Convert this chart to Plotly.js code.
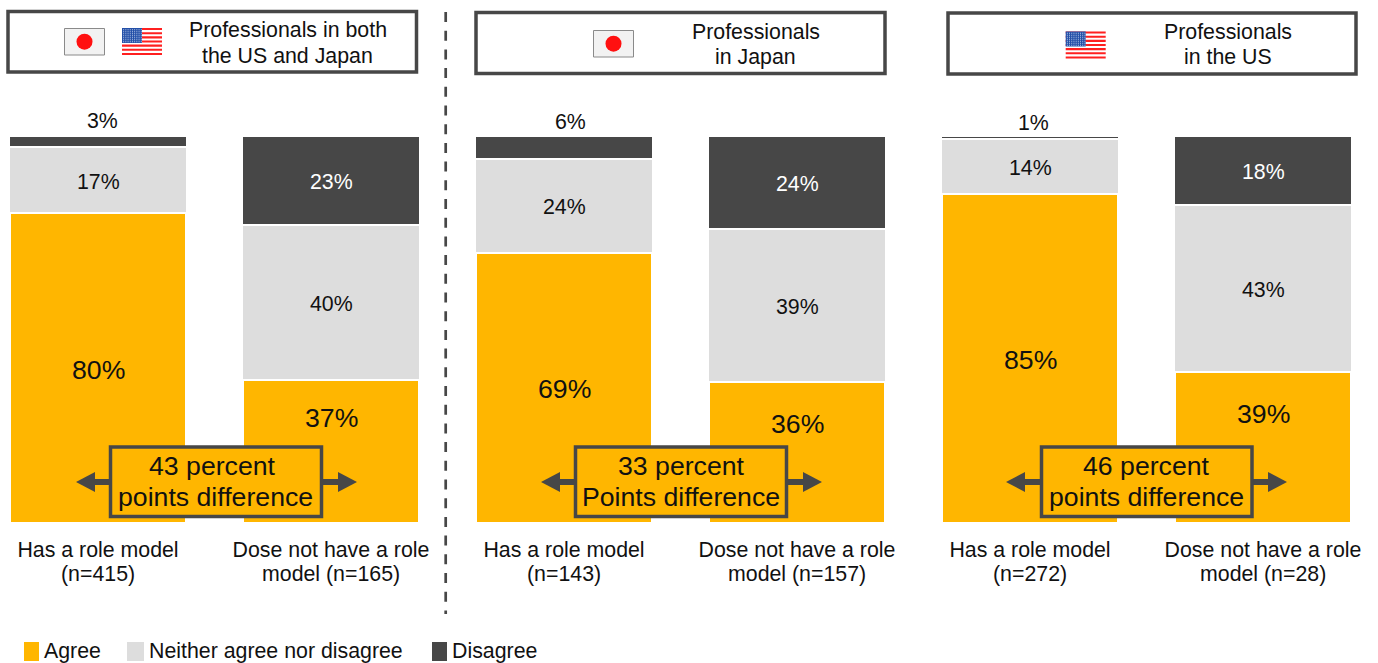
<!DOCTYPE html>
<html>
<head>
<meta charset="utf-8">
<script src="https://cdn.plot.ly/plotly-3.0.1.min.js"></script>
<style>html,body{margin:0;padding:0;background:#fff;overflow:hidden}</style>
</head>
<body>
<div id="chart" style="width:1378px;height:663px"></div>
<script>
// Survey responses by role-model status, in percent
const categories = ['Has a role model', 'Dose not have a role model'];
const tickFirstLines = ['Has a role model', 'Dose not have a role'];
const tickSecondBoth = ['(n=415)', 'model (n=165)'];
const tickSecondJapan = ['(n=143)', 'model (n=157)'];
const tickSecondUS = ['(n=272)', 'model (n=28)'];

const agreeBoth = [80, 37];
const neitherBoth = [17, 40];
const disagreeBoth = [3, 23];
const agreeJapan = [69, 36];
const neitherJapan = [24, 39];
const disagreeJapan = [6, 24];
const agreeUS = [85, 39];
const neitherUS = [14, 43];
const disagreeUS = [1, 18];

const seriesNames = ['Agree', 'Neither agree nor disagree', 'Disagree'];
const panelTitles = [['Professionals in both', 'the US and Japan'], ['Professionals', 'in Japan'], ['Professionals', 'in the US']];
const diffLabels = [['43 percent', 'points difference'], ['33 percent', 'Points difference'], ['46 percent', 'points difference']];

const AMBER = '#FFB600', GREY = '#DDDDDD', DARK = '#474747', INK = '#111111';
const FONT = '"Liberation Sans", Arial, sans-serif';
const BASE = 21.33, LARGE = 26.67;
const W = 1378, H = 663;
const px = v => v / W;
const py = v => 1 - v / H;

// Pixel geometry of each panel: bar centres, header box, callout box, label offsets
const panels = [
  {c: [98, 331], head: [8, 416.5], headY: [11.5, 72], titleX: 287.5, titleY: [30, 56],
   diffBox: [110.5, 321.5], diffX: [212.5, 215.5], tips: [76, 357], topShift: 4, topY: 0, agree2Y: 418,
   agree: agreeBoth, neither: neitherBoth, disagree: disagreeBoth, second: tickSecondBoth},
  {c: [564, 797], head: [476, 885], headY: [12.5, 73.5], titleX: 756, titleY: [32, 57],
   diffBox: [575.5, 786.5], diffX: [681, 681], tips: [541, 822], topShift: 6, topY: -1, agree2Y: 424,
   agree: agreeJapan, neither: neitherJapan, disagree: disagreeJapan, second: tickSecondJapan},
  {c: [1030, 1263], head: [948, 1356], headY: [13, 74], titleX: 1227.5, titleY: [32, 57],
   diffBox: [1041.5, 1252], diffX: [1146, 1146], tips: [1006, 1287], topShift: 3, topY: -2, agree2Y: 414,
   agree: agreeUS, neither: neitherUS, disagree: disagreeUS, second: tickSecondUS}
];

const plotTop = 135.5, plotBottom = 523;
const data = [], shapes = [], annotations = [], layout = {};

const paperShape = o => Object.assign({xref: 'paper', yref: 'paper', layer: 'above'}, o);
const textAt = (text, x, y, size, extra) => annotations.push(Object.assign({
  xref: 'paper', yref: 'paper', x: px(x), y: py(y), xanchor: 'center', yanchor: 'middle',
  showarrow: false, text, font: {family: FONT, size, color: INK}
}, extra || {}));

panels.forEach((p, i) => {
  const n = i === 0 ? '' : String(i + 1);
  const xa = 'x' + n, ya = 'y' + n;
  const unit = p.c[1] - p.c[0];
  const left = p.c[0] - 93, right = p.c[1] + 93;
  const total = Math.max(p.agree[0] + p.neither[0] + p.disagree[0], p.agree[1] + p.neither[1] + p.disagree[1]);

  layout['xaxis' + n] = {
    domain: [px(left), px(right)],
    range: [(left - p.c[0]) / unit, (right - p.c[0]) / unit],
    type: 'linear', tickmode: 'array', tickvals: [0, 1], ticktext: tickFirstLines,
    showgrid: false, zeroline: false, showline: false, ticks: '', ticklen: 0, ticklabelstandoff: 12,
    tickfont: {family: FONT, size: BASE, color: INK}, anchor: ya, fixedrange: true
  };
  layout['yaxis' + n] = {
    domain: [py(plotBottom), py(plotTop)],
    range: [0, total], visible: false, anchor: xa, fixedrange: true
  };

  const series = [
    {name: seriesNames[0], y: p.agree, color: AMBER, w: 0.757},
    {name: seriesNames[1], y: p.neither, color: GREY, w: 0.765},
    {name: seriesNames[2], y: p.disagree, color: DARK, w: 0.765}
  ];
  series.forEach(s => data.push({
    type: 'bar', x: [0, 1], y: s.y, name: s.name, xaxis: xa, yaxis: ya, width: s.w,
    marker: {color: s.color, line: {color: '#ffffff', width: 2}},
    customdata: categories, showlegend: false,
    hovertemplate: '%{customdata}: %{y}%<extra>' + s.name + '</extra>'
  }));

  // Value labels centred on their segments
  const segmentLabel = (k, base, value, size, color) => annotations.push({
    xref: xa, yref: ya, x: k, y: base + value / 2, yshift: -1.5, xanchor: 'center', yanchor: 'middle',
    showarrow: false, text: value + '%', font: {family: FONT, size, color}
  });
  segmentLabel(0, 0, p.agree[0], LARGE, INK);
  segmentLabel(0, p.agree[0], p.neither[0], BASE, INK);
  segmentLabel(1, p.agree[1], p.neither[1], BASE, INK);
  segmentLabel(1, p.agree[1] + p.neither[1], p.disagree[1], BASE, '#ffffff');

  // Second line of each category label, with tighter leading than a tick label allows
  p.second.forEach((label, k) => annotations.push({
    xref: xa, yref: 'paper', x: k, y: py(574), xanchor: 'center', yanchor: 'middle',
    showarrow: false, text: label, font: {family: FONT, size: BASE, color: INK}
  }));

  // Label above the thin top segment of the first bar
  annotations.push({
    xref: xa, yref: ya, x: 0, y: total, xshift: p.topShift, yshift: p.topY,
    xanchor: 'center', yanchor: 'bottom', showarrow: false,
    text: p.disagree[0] + '%', font: {family: FONT, size: BASE, color: INK}
  });
  // Agree label of the second bar sits above the callout box
  annotations.push({
    xref: xa, yref: 'paper', x: 1, y: py(p.agree2Y), xanchor: 'center', yanchor: 'middle', showarrow: false,
    text: p.agree[1] + '%', font: {family: FONT, size: LARGE, color: INK}
  });

  // Header box and title
  shapes.push(paperShape({type: 'rect', x0: px(p.head[0]), x1: px(p.head[1]), y0: py(p.headY[0]), y1: py(p.headY[1]),
    fillcolor: '#ffffff', line: {color: DARK, width: 3.5}}));
  panelTitles[i].forEach((line, k) => textAt(line, p.titleX, p.titleY[k], BASE));

  // Double-headed arrow behind the difference callout
  const midY = 482;
  const [b0, b1] = p.diffBox, [t0, t1] = p.tips;
  shapes.push(paperShape({type: 'line', x0: px(t0 + 15), x1: px(b0), y0: py(midY), y1: py(midY), line: {color: DARK, width: 6}}));
  shapes.push(paperShape({type: 'line', x0: px(b1), x1: px(t1 - 15), y0: py(midY), y1: py(midY), line: {color: DARK, width: 6}}));
  shapes.push(paperShape({type: 'path', fillcolor: DARK, line: {width: 0},
    path: `M${px(t0)},${py(midY)} L${px(t0 + 19)},${py(midY - 10)} L${px(t0 + 19)},${py(midY + 10)} Z`}));
  shapes.push(paperShape({type: 'path', fillcolor: DARK, line: {width: 0},
    path: `M${px(t1)},${py(midY)} L${px(t1 - 19)},${py(midY - 10)} L${px(t1 - 19)},${py(midY + 10)} Z`}));
  shapes.push(paperShape({type: 'rect', x0: px(b0), x1: px(b1), y0: py(447), y1: py(516.5),
    fillcolor: AMBER, line: {color: DARK, width: 3.5}}));
  textAt(diffLabels[i][0], p.diffX[0], 466, LARGE);
  textAt(diffLabels[i][1], p.diffX[1], 497, LARGE);
});

// Dashed divider between the combined panel and the country panels
shapes.push(paperShape({type: 'line', x0: px(445.7), x1: px(445.7), y0: py(12), y1: py(614),
  line: {color: DARK, width: 2.7, dash: '10px,8.7px'}}));

// Legend row
const legendItems = [
  {x0: 24, x1: 39, tx: 44, color: AMBER},
  {x0: 127, x1: 144, tx: 149, color: GREY},
  {x0: 432, x1: 447, tx: 452, color: DARK}
];
legendItems.forEach((it, i) => {
  shapes.push(paperShape({type: 'rect', x0: px(it.x0), x1: px(it.x1), y0: py(642), y1: py(661),
    fillcolor: it.color, line: {width: 0}}));
  textAt(seriesNames[i], it.tx, 651, BASE, {xanchor: 'left', xshift: -2});
});

// Flags drawn from plain rectangles and circles
const rectAt = (x0, x1, y0, y1, fill, line) => shapes.push(paperShape({type: 'rect',
  x0: px(x0), x1: px(x1), y0: py(y0), y1: py(y1), fillcolor: fill, line: line || {width: 0}}));

function japanFlag(x, y) {
  rectAt(x + 0.5, x + 40.5, y + 0.5, y + 27, '#F2F2F2', {color: '#8A8A8A', width: 1});
  shapes.push(paperShape({type: 'circle', x0: px(x + 12.5), x1: px(x + 28.5), y0: py(y + 5.7), y1: py(y + 21.7),
    fillcolor: '#FF1010', line: {width: 0}}));
}
function usFlag(x, y) {
  const stripe = 27 / 13;
  for (let k = 0; k < 7; k++) rectAt(x, x + 40, y + 2 * k * stripe, y + (2 * k + 1) * stripe, '#FF2020');
  rectAt(x, x + 20, y, y + 15, '#2450A8');
  let dots = '';
  for (let r = 0; r < 7; r++) for (let c = 0; c < 9; c++) {
    const dx = x + 1.2 + c * 2.2, dy = y + 1.3 + r * 2;
    dots += `M${px(dx)},${py(dy)}H${px(dx + 0.9)}V${py(dy + 0.9)}H${px(dx)}Z`;
  }
  shapes.push(paperShape({type: 'path', path: dots, fillcolor: '#C8D4EE', line: {width: 0}}));
}
japanFlag(64, 28);
usFlag(122, 28);
japanFlag(593, 30);
usFlag(1065.7, 31.5);

Object.assign(layout, {
  width: W, height: H,
  margin: {l: 0, r: 0, t: 0, b: 0, pad: 0},
  paper_bgcolor: '#ffffff', plot_bgcolor: '#ffffff',
  barmode: 'stack', showlegend: false,
  font: {family: FONT, color: INK},
  shapes, annotations
});

Plotly.newPlot('chart', data, layout, {displayModeBar: false, staticPlot: true});
</script>
</body>
</html>
